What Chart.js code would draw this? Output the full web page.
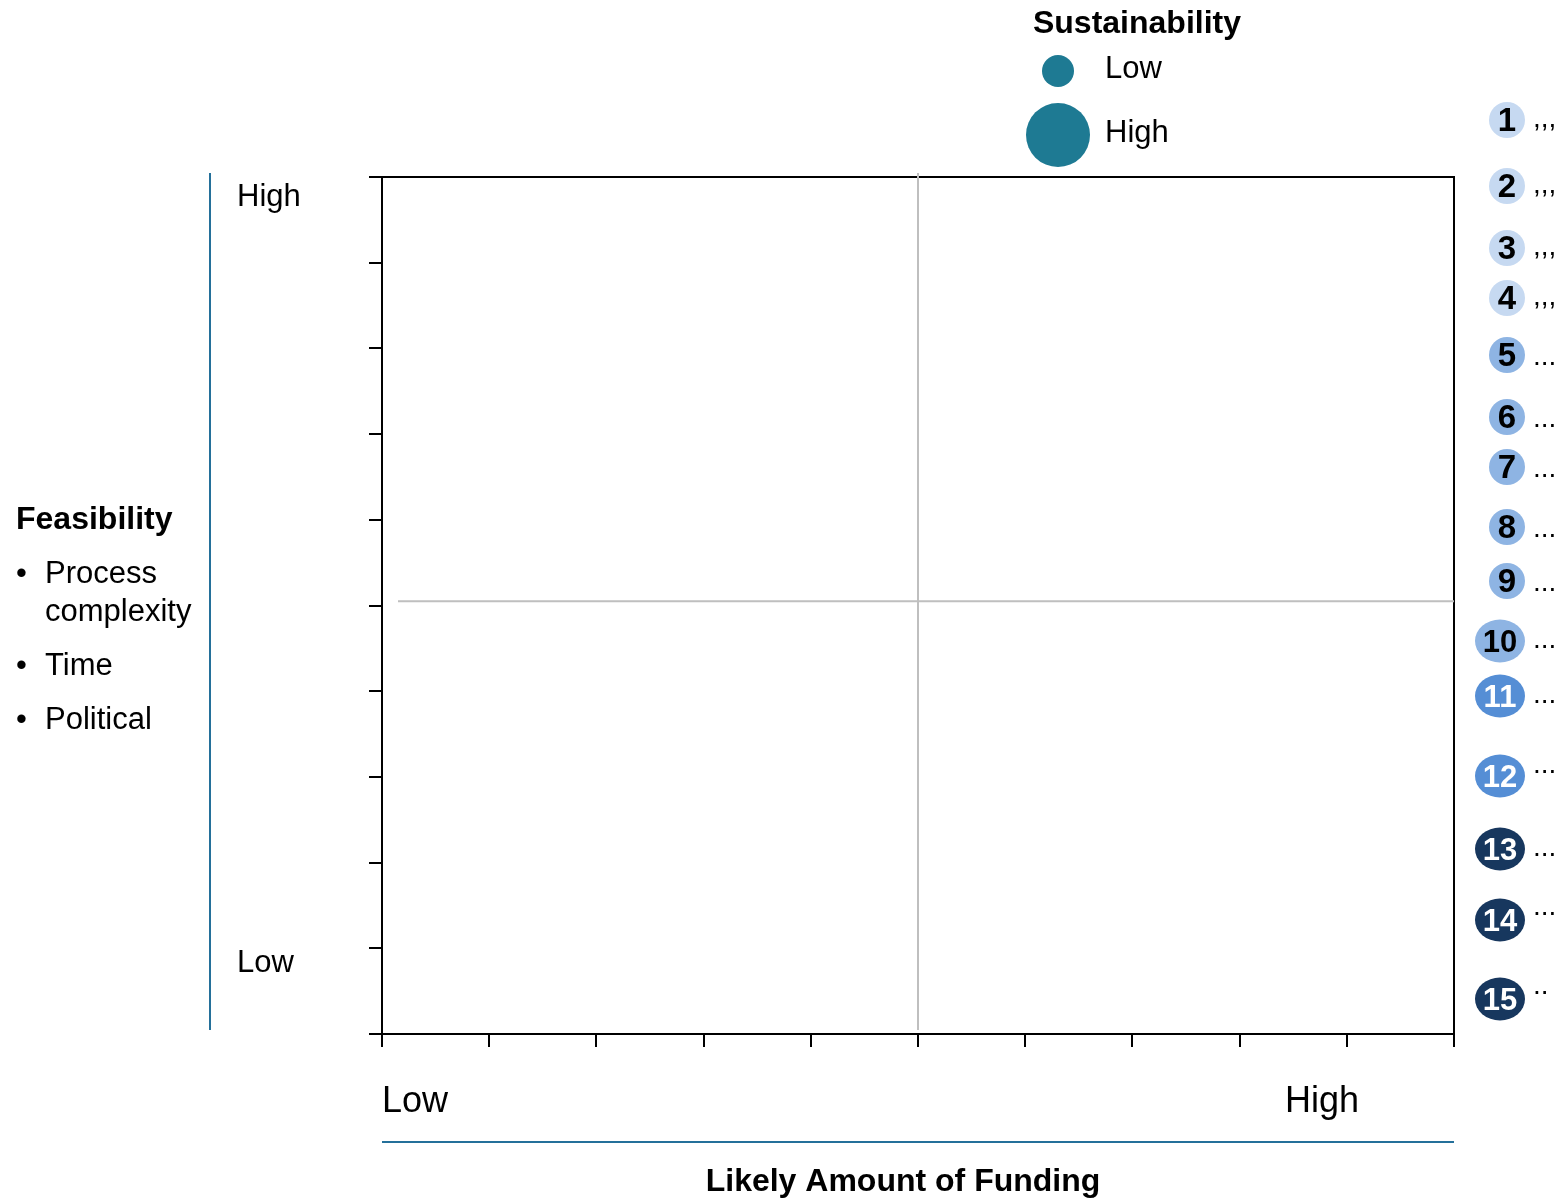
<!DOCTYPE html>
<html>
<head>
<meta charset="utf-8">
<title>Funding vs Feasibility matrix</title>
<script src="https://cdn.jsdelivr.net/npm/chart.js@4.4.1/dist/chart.umd.min.js"></script>
<style>
  html, body { margin: 0; padding: 0; background: #ffffff; }
  #wrap { position: relative; width: 1559px; height: 1200px; }
</style>
</head>
<body>
<div id="wrap"><canvas id="matrix" width="1559" height="1200"></canvas></div>
<script>
// ---- Data ---------------------------------------------------------------
// Options listed in the key (numbered), their shade tier and short label
const optionIds    = [1, 2, 3, 4, 5, 6, 7, 8, 9, 10, 11, 12, 13, 14, 15];
const optionTiers  = [0, 0, 0, 0, 1, 1, 1, 1, 1, 1, 2, 2, 3, 3, 3];
const optionLabels = [',,,', ',,,', ',,,', ',,,', '...', '...', '...', '...', '...',
                      '...', '...', '...', '...', '...', '..'];

// Options placed on the matrix: {x: funding, y: feasibility, r: sustainability}
const plottedOptions = [];

// Axis tick values (scored 0-10 on both axes) and the matrix midpoints
const fundingTicks     = [0, 1, 2, 3, 4, 5, 6, 7, 8, 9, 10];
const feasibilityTicks = [0, 1, 2, 3, 4, 5, 6, 7, 8, 9, 10];
const fundingMid = 5;
const feasibilityMid = 5.05;

// Text
const fundingEnds        = ['Low', 'High'];
const feasibilityEnds    = ['High', 'Low'];
const feasibilityTitle   = 'Feasibility';
const feasibilityFactors = [['Process', 'complexity'], ['Time'], ['Political']];
const fundingTitle       = 'Likely Amount of Funding';
const sustainTitle       = 'Sustainability';
const sustainLevels      = ['Low', 'High'];

// ---- Style & layout -----------------------------------------------------
const FONT = '"Liberation Sans", Arial, Helvetica, sans-serif';
const tierColors = ['#c6d9f1', '#8eb4e3', '#558ed5', '#17375e'];
const tierText   = ['#000000', '#000000', '#ffffff', '#ffffff'];
const teal = '#1e7a93';
const titleBar = '#24709a';
const quadrantGrey = '#bfbfbf';

// key rows (vertical centre of each numbered marker) and small label offsets
const keyRowY  = [120, 186, 248, 298, 355, 417, 467, 527, 581, 641, 696, 776, 849, 920, 999];
const keyDotDy = [7, 7, 7, 7, 10, 10, 10, 10, 10, 7, 7, -3, 7, -5, -5];

const decorations = {
  id: 'decorations',
  beforeDatasetsDraw(chart) {
    const { ctx, chartArea: a, scales: { x, y } } = chart;
    const mx = x.getPixelForValue(fundingMid);
    const my = y.getPixelForValue(feasibilityMid);
    ctx.save();
    ctx.strokeStyle = quadrantGrey;
    ctx.lineWidth = 2;
    ctx.beginPath();
    ctx.moveTo(mx, a.top - 4);
    ctx.lineTo(mx, a.bottom - 4);
    ctx.moveTo(a.left + 16, my);
    ctx.lineTo(a.right, my);
    ctx.stroke();
    ctx.restore();
  },
  afterDraw(chart) {
    const { ctx, chartArea: a } = chart;
    ctx.save();
    ctx.fillStyle = '#000';

    // --- feasibility side (left)
    ctx.strokeStyle = titleBar;
    ctx.lineWidth = 2;
    ctx.beginPath();
    ctx.moveTo(210, a.top - 4);
    ctx.lineTo(210, a.bottom - 4);
    ctx.stroke();

    ctx.textBaseline = 'middle';
    ctx.textAlign = 'left';
    ctx.font = '31px ' + FONT;
    ctx.fillText(feasibilityEnds[0], 237, 197);
    ctx.fillText(feasibilityEnds[1], 237, 963);

    ctx.font = 'bold 32px ' + FONT;
    ctx.fillText(feasibilityTitle, 16, 520);

    ctx.font = '31px ' + FONT;
    let yy = 574;
    feasibilityFactors.forEach(lines => {
      ctx.fillText('\u2022', 16, yy);
      lines.forEach(ln => {
        ctx.fillText(ln, 45, yy);
        yy += 38;
      });
      yy += 16;
    });

    // --- funding side (bottom)
    ctx.font = '36px ' + FONT;
    ctx.textAlign = 'left';
    ctx.fillText(fundingEnds[0], a.left, 1102);
    ctx.textAlign = 'right';
    ctx.fillText(fundingEnds[1], 1359, 1102);

    ctx.strokeStyle = titleBar;
    ctx.beginPath();
    ctx.moveTo(a.left, 1142);
    ctx.lineTo(a.right, 1142);
    ctx.stroke();

    ctx.font = 'bold 32px ' + FONT;
    ctx.textAlign = 'center';
    ctx.fillText(fundingTitle, 903, 1182);

    // --- sustainability size legend (top)
    ctx.fillText(sustainTitle, 1137, 24);
    const sizes = [16, 32];
    const rows = [71, 135];
    ctx.font = '31px ' + FONT;
    ctx.textAlign = 'left';
    sustainLevels.forEach((lv, i) => {
      ctx.fillStyle = teal;
      ctx.beginPath();
      ctx.arc(1058, rows[i], sizes[i], 0, Math.PI * 2);
      ctx.fill();
      ctx.fillStyle = '#000';
      ctx.fillText(lv, 1105, rows[i] - 2);
    });

    // --- numbered option key (right)
    optionIds.forEach((id, i) => {
      const cy = keyRowY[i];
      const twoDigit = String(id).length > 1;
      const cx = twoDigit ? 1500 : 1507;
      const rx = twoDigit ? 25 : 18;
      const ry = twoDigit ? 21.5 : 18;
      ctx.fillStyle = tierColors[optionTiers[i]];
      ctx.beginPath();
      ctx.ellipse(cx, cy, rx, ry, 0, 0, Math.PI * 2);
      ctx.fill();
      ctx.fillStyle = tierText[optionTiers[i]];
      ctx.font = (twoDigit ? 'bold 31px ' : 'bold 33px ') + FONT;
      ctx.textAlign = 'center';
      ctx.textBaseline = 'middle';
      ctx.fillText(String(id), cx, cy + 2);
      ctx.fillStyle = '#000';
      ctx.font = '28px ' + FONT;
      ctx.textAlign = 'left';
      ctx.textBaseline = 'alphabetic';
      ctx.fillText(optionLabels[i], 1533, cy + keyDotDy[i]);
    });
    ctx.restore();
  }
};

const axisLine = { display: true, color: '#000', width: 2 };
const tickGrid = { display: true, drawOnChartArea: false, drawTicks: true, tickLength: 13, color: '#000', lineWidth: 2 };
const bareGrid = { display: false, drawTicks: false };

new Chart(document.getElementById('matrix'), {
  type: 'bubble',
  data: {
    datasets: [{
      label: 'Options',
      data: plottedOptions,
      backgroundColor: teal
    }]
  },
  options: {
    responsive: false,
    animation: false,
    devicePixelRatio: 1,
    layout: { padding: { left: 369, top: 177, right: 105, bottom: 153 } },
    plugins: { legend: { display: false }, tooltip: { enabled: false } },
    scales: {
      x: {
        type: 'linear', position: 'bottom', min: 0, max: 10,
        afterBuildTicks: s => { s.ticks = fundingTicks.map(v => ({ value: v })); },
        ticks: { display: false },
        grid: tickGrid, border: axisLine
      },
      y: {
        type: 'linear', position: 'left', min: 0, max: 10,
        afterBuildTicks: s => { s.ticks = feasibilityTicks.map(v => ({ value: v })); },
        ticks: { display: false },
        grid: tickGrid, border: axisLine
      },
      xTop: {
        type: 'linear', position: 'top', min: 0, max: 10,
        ticks: { display: false }, grid: bareGrid, border: axisLine
      },
      yRight: {
        type: 'linear', position: 'right', min: 0, max: 10,
        ticks: { display: false }, grid: bareGrid, border: axisLine
      }
    }
  },
  plugins: [decorations]
});
</script>
</body>
</html>
